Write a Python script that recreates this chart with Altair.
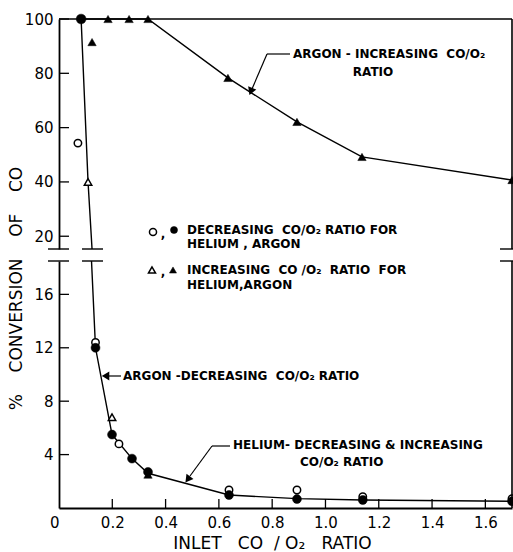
import altair as alt
import pandas as pd

# ---------------- data ----------------
# x: inlet CO/O2 ratio, y: % conversion of CO
# Upper panel (broken axis, 15.3 .. 100 %)
up_line_argon_inc_x = [0.083, 0.184, 0.263, 0.334, 0.634, 0.893, 1.137, 1.70]
up_line_argon_inc_y = [100, 100, 100, 100, 78.3, 62.1, 49.2, 40.7]
up_line_steep_x = [0.083, 0.109, 0.124]
up_line_steep_y = [100, 40, 15.3]

up_open_circle_x = [0.071]
up_open_circle_y = [54.3]
up_fill_circle_x = [0.083]
up_fill_circle_y = [100]
up_open_tri_x = [0.109]
up_open_tri_y = [40]
up_fill_tri_x = [0.124, 0.184, 0.263, 0.334, 0.634, 0.893, 1.137, 1.70]
up_fill_tri_y = [91.5, 100, 100, 100, 78.3, 62.1, 49.2, 40.7]

# Lower panel (0 .. 18.5 %)
lo_line_x = [0.122, 0.137, 0.199, 0.274, 0.334, 0.638, 0.893, 1.14, 1.70]
lo_line_y = [18.5, 12.0, 5.5, 3.7, 2.6, 0.97, 0.7, 0.6, 0.5]

lo_open_circle_x = [0.137, 0.225, 0.638, 0.893, 1.14, 1.70]
lo_open_circle_y = [12.4, 4.8, 1.35, 1.35, 0.85, 0.7]
lo_fill_circle_x = [0.137, 0.199, 0.274, 0.334, 0.638, 0.893, 1.14, 1.70]
lo_fill_circle_y = [12.0, 5.5, 3.7, 2.7, 0.97, 0.67, 0.6, 0.5]
lo_open_tri_x = [0.199]
lo_open_tri_y = [6.8]
lo_fill_tri_x = [0.334]
lo_fill_tri_y = [2.5]

# axes
x_domain = [0, 1.7]
x_label_values = [0, 0.2, 0.4, 0.6, 0.8, 1.0, 1.2, 1.4, 1.6]
x_tick_values = [0.2, 0.4, 0.6, 0.8, 1.0, 1.2, 1.4, 1.6]
up_domain = [15.3, 100]
up_tick_values = [20, 40, 60, 80, 100]
lo_domain = [0, 18.5]
lo_tick_values = [4, 8, 12, 16]

# ---------------- layout / style ----------------
W, H = 453, 489
UP_BOTTOM, LO_TOP = 230, 242
FONT = "DejaVu Sans"
INK = "black"
LW = 1.4
S = "\u00a0"  # non-breaking space (keeps wide gaps)

X = alt.X(
    "x:Q",
    scale=alt.Scale(domain=x_domain, nice=False, zero=False),
    axis=alt.Axis(
        values=x_label_values,
        labelExpr="datum.value == 0 ? '0' : format(datum.value, '.1f')",
        labelAlign={"condition": {"test": "datum.value == 0", "value": "right"},
                    "value": "center"},
        ticks=False,
        labelPadding=7,
        labelFlush=False,
        grid=False,
        orient="bottom",
        title="INLET" + S * 3 + "CO" + S * 2 + "/" + S + "O\u2082" + S * 3 + "RATIO",
        titleX=213,
        titleY=35,
        titleAlign="center",
        titleBaseline="middle",
        titleFontSize=17,
    ),
)

UY = alt.Y(
    "y:Q",
    scale=alt.Scale(domain=up_domain, range=[UP_BOTTOM, 0], nice=False, zero=False),
    axis=alt.Axis(values=up_tick_values, orient="left", ticks=False,
                  labelPadding=6, grid=False, title=None),
)

LY = alt.Y(
    "y:Q",
    scale=alt.Scale(domain=lo_domain, range=[H, LO_TOP], nice=False, zero=False),
    axis=alt.Axis(
        values=lo_tick_values, orient="left", ticks=False, labelPadding=6,
        grid=False,
        title="%" + S * 4 + "CONVERSION" + S * 4 + "OF" + S * 4 + "CO",
        titleAngle=270, titleX=-43, titleY=269,
        titleAlign="center", titleBaseline="middle",
        titleFontSize=17,
    ),
)


def df(xs, ys):
    return pd.DataFrame({"x": xs, "y": ys})


one = pd.DataFrame({"k": [0]})


def line(xs, ys, Y):
    return alt.Chart(df(xs, ys)).mark_line(color=INK, strokeWidth=LW).encode(x=X, y=Y)


def pts(xs, ys, Y, shape, filled, size):
    if filled:
        m = alt.Chart(df(xs, ys)).mark_point(shape=shape, filled=True, fill=INK,
                                             stroke=INK, strokeWidth=0.5, size=size, opacity=1)
    else:
        m = alt.Chart(df(xs, ys)).mark_point(shape=shape, filled=True, fill="white",
                                             stroke=INK, strokeWidth=1.5, size=size, opacity=1)
    return m.encode(x=X, y=Y)


def seg(x1, y1, x2, y2, w=LW):
    return alt.Chart(one).mark_rule(color=INK, strokeWidth=w).encode(
        x=alt.value(x1), y=alt.value(y1), x2=alt.value(x2), y2=alt.value(y2))


def head(x, y, angle):
    return alt.Chart(one).mark_point(shape="triangle-up", filled=True, fill=INK,
                                     stroke=INK, size=28, angle=angle, opacity=1).encode(
        x=alt.value(x), y=alt.value(y))


def sym(x, y, shape, filled):
    return alt.Chart(one).mark_point(shape=shape, filled=True,
                                     fill=INK if filled else "white", stroke=INK,
                                     strokeWidth=1.5 if not filled else 0.5,
                                     size=50, opacity=1).encode(x=alt.value(x), y=alt.value(y))


def txt(s, x, y, align="left", size=12):
    return alt.Chart(one).mark_text(text=s, align=align, baseline="middle", font=FONT,
                                    fontSize=size, fontWeight="bold", color=INK).encode(
        x=alt.value(x), y=alt.value(y))


# ---------------- upper panel ----------------
up_ticks = alt.Chart(pd.DataFrame({"y": up_tick_values})).mark_rule(
    color=INK, strokeWidth=1.3).encode(y=UY, x=alt.value(0), x2=alt.value(10))

upper = alt.layer(
    line(up_line_argon_inc_x, up_line_argon_inc_y, UY),
    line(up_line_steep_x, up_line_steep_y, UY),
    up_ticks,
    pts(up_open_circle_x, up_open_circle_y, UY, "circle", False, 55),
    pts(up_fill_circle_x, up_fill_circle_y, UY, "circle", True, 95),
    pts(up_open_tri_x, up_open_tri_y, UY, "triangle-up", False, 55),
    pts(up_fill_tri_x, up_fill_tri_y, UY, "triangle-up", True, 70),
    # frame and break marks
    seg(0, 0, W, 0, 1.6),
    seg(W, 0, W, UP_BOTTOM, 1.6),
    seg(-11, UP_BOTTOM, 10, UP_BOTTOM),
    seg(23, UP_BOTTOM, 44, UP_BOTTOM),
    seg(441, UP_BOTTOM, W + 2, UP_BOTTOM),
    # annotation: argon increasing
    txt("ARGON - INCREASING" + S * 2 + "CO/O\u2082", 234, 35),
    txt("RATIO", 314, 53, align="center"),
    seg(231, 35, 208, 35, 1.2),
    seg(208, 35, 193, 70, 1.2),
    head(192, 72, 202),
    # legend (upper part)
    sym(94, 213, "circle", False),
    txt(",", 104, 215, align="center"),
    sym(115, 211, "circle", True),
    txt("DECREASING" + S * 2 + "CO/O\u2082 RATIO FOR", 128, 211),
    txt("HELIUM , ARGON", 128, 225),
)

# ---------------- lower panel ----------------
lo_ticks = alt.Chart(pd.DataFrame({"y": lo_tick_values})).mark_rule(
    color=INK, strokeWidth=1.3).encode(y=LY, x=alt.value(0), x2=alt.value(10))
x_ticks = alt.Chart(pd.DataFrame({"x": x_tick_values})).mark_rule(
    color=INK, strokeWidth=1.3).encode(x=X, y=alt.value(H), y2=alt.value(H - 9))

lower = alt.layer(
    line(lo_line_x, lo_line_y, LY),
    lo_ticks,
    x_ticks,
    pts(lo_open_circle_x, lo_open_circle_y, LY, "circle", False, 55),
    pts(lo_fill_circle_x, lo_fill_circle_y, LY, "circle", True, 80),
    pts(lo_open_tri_x, lo_open_tri_y, LY, "triangle-up", False, 55),
    pts(lo_fill_tri_x, lo_fill_tri_y, LY, "triangle-up", True, 70),
    seg(W, LO_TOP, W, H, 1.6),
    seg(-11, LO_TOP, 10, LO_TOP),
    seg(23, LO_TOP, 44, LO_TOP),
    seg(441, LO_TOP, W + 2, LO_TOP),
    # legend (lower part)
    sym(93, 251, "triangle-up", False),
    txt(",", 104, 253, align="center"),
    sym(114, 251, "triangle-up", True),
    txt("INCREASING" + S * 2 + "CO /O\u2082" + S * 2 + "RATIO" + S * 2 + "FOR", 128, 251),
    txt("HELIUM,ARGON", 128, 266),
    # annotation: argon decreasing
    txt("ARGON -DECREASING" + S * 2 + "CO/O\u2082 RATIO", 64, 357),
    seg(62, 357, 49, 357, 1.2),
    head(47, 357, 270),
    # annotation: helium
    txt("HELIUM- DECREASING & INCREASING", 174, 426),
    txt("CO/O\u2082 RATIO", 241, 443),
    seg(171, 427, 153, 427, 1.2),
    seg(153, 427, 131, 457, 1.2),
    head(129, 460, 217),
)

chart = (
    alt.layer(upper, lower)
    .resolve_scale(y="independent")
    .properties(
        width=W,
        height=H,
        padding={"left": 59, "top": 19, "right": 1, "bottom": 44},
        autosize=alt.AutoSizeParams(type="none"),
        background="white",
    )
    .configure_view(strokeWidth=0)
    .configure_axis(
        domainColor=INK,
        domainWidth=1.8,
        labelColor=INK,
        labelFont=FONT,
        labelFontSize=15,
        titleColor=INK,
        titleFont=FONT,
        titleFontSize=15,
        titleFontWeight="normal",
    )
)

chart.save("out.html", embed_options={"renderer": "svg", "actions": False})
